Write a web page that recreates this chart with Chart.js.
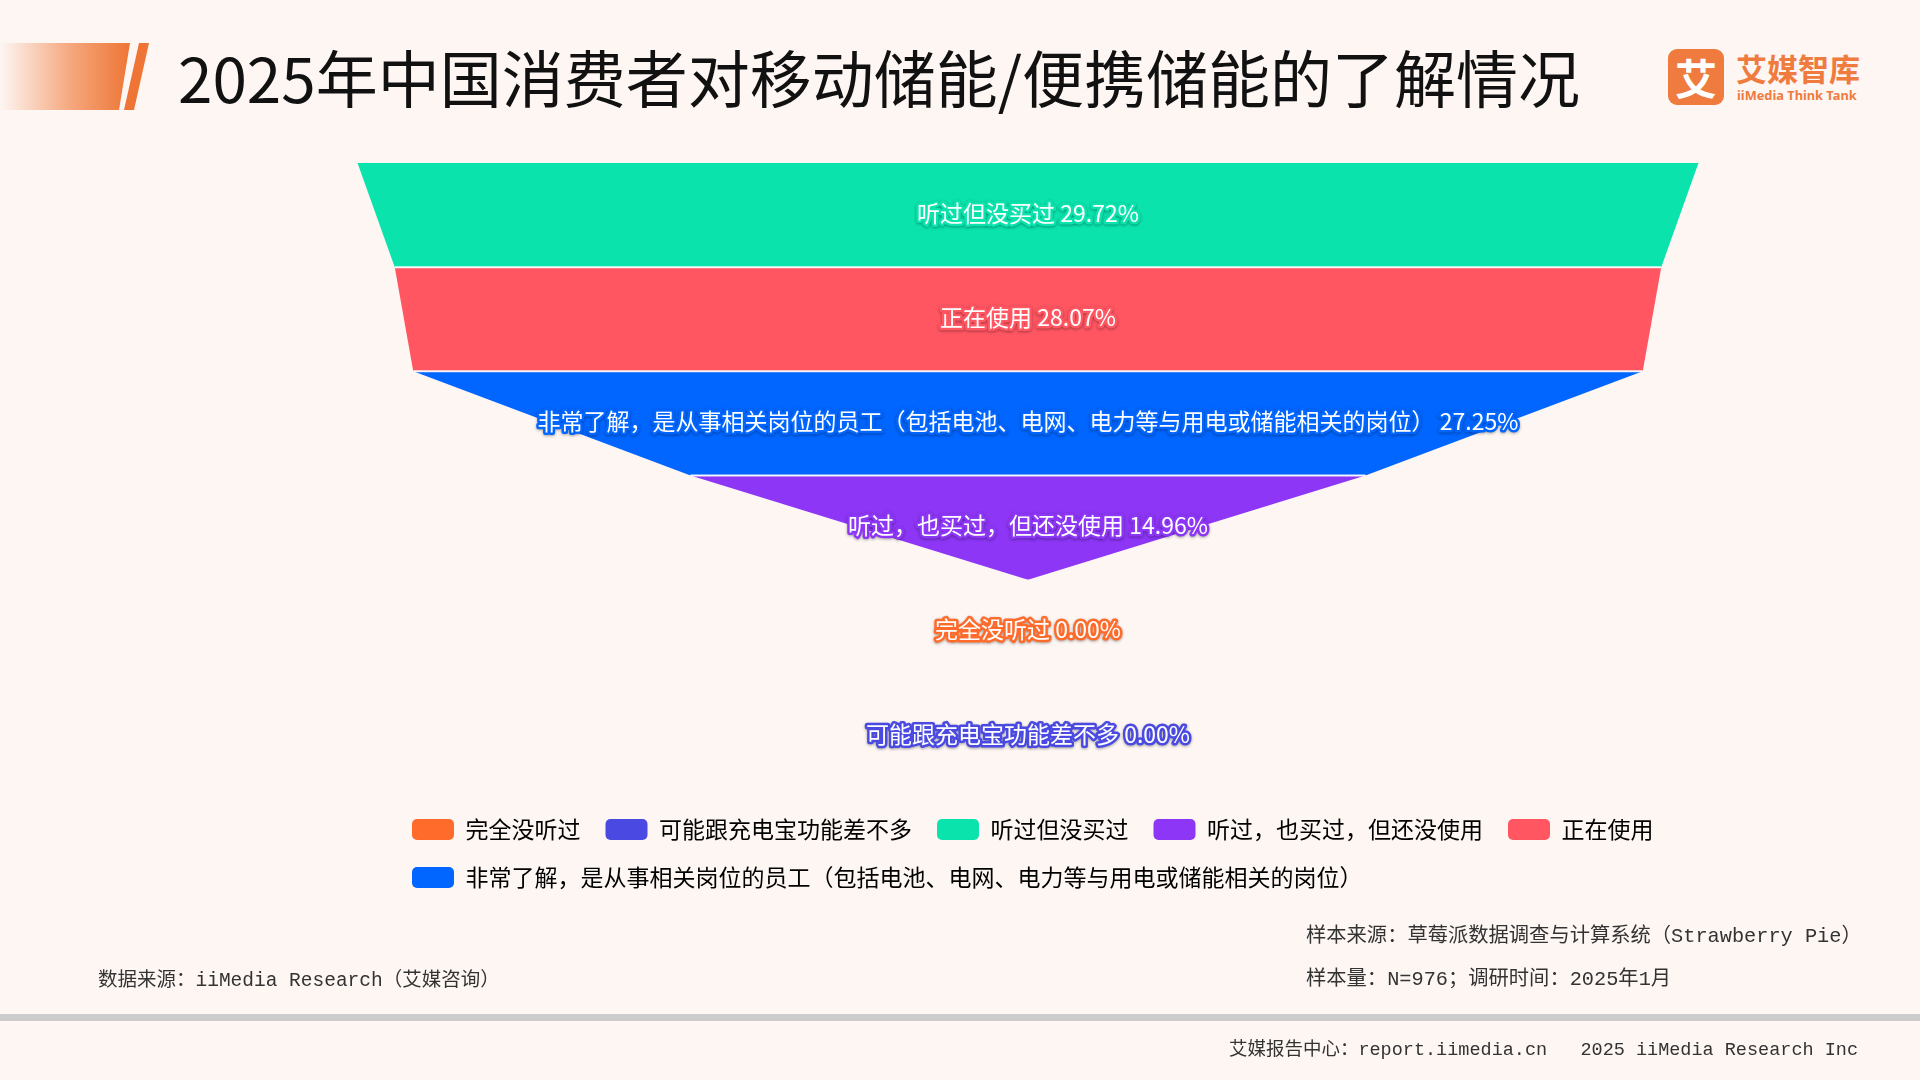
<!DOCTYPE html>
<html lang="zh-CN">
<head>
<meta charset="utf-8">
<title>2025年中国消费者对移动储能/便携储能的了解情况</title>
<script src="https://cdn.jsdelivr.net/npm/chart.js@4.4.1/dist/chart.umd.min.js"></script>
<style>
  html, body { margin: 0; padding: 0; }
  body {
    width: 1920px; height: 1080px; position: relative; overflow: hidden;
    background: #fdf6f3;
    font-family: "Noto Sans CJK SC", "Noto Sans", sans-serif;
  }
  #chart { position: absolute; left: 0; top: 0; }
  .deco { position: absolute; top: 43px; height: 67px; }
  .deco-block {
    left: 0; width: 130px;
    background: linear-gradient(to right, rgba(246,160,110,0) 0%, rgba(242,140,84,0.75) 55%, #ee7535 100%);
    clip-path: polygon(0 0, 130px 0, 119px 67px, 0 67px);
  }
  .deco-stripe {
    left: 120px; width: 32px; background: #ee7535;
    clip-path: polygon(19px 0, 29px 0, 14px 67px, 4px 67px);
  }
  #title {
    position: absolute; left: 178px; top: 38px;
    font-size: 62px; line-height: 76px; color: #111; white-space: nowrap;
  }
  #logo-mark {
    position: absolute; left: 1668px; top: 49px; width: 56px; height: 56px;
    border-radius: 9px; background: #ef7b3e; color: #fff;
    font-size: 42px; font-weight: bold; line-height: 56px; text-align: center;
  }
  #logo-cn {
    position: absolute; left: 1736px; top: 48px;
    font-size: 31px; line-height: 40px; font-weight: bold; color: #ef7b3e; white-space: nowrap;
  }
  #logo-en {
    position: absolute; left: 1737px; top: 87px;
    font-family: "Noto Sans", sans-serif;
    font-size: 12.8px; line-height: 17px; font-weight: bold; color: #ef7b3e; white-space: nowrap;
  }
  .note {
    position: absolute; white-space: nowrap; color: #333;
    font-family: "Liberation Mono", "Noto Sans CJK SC", monospace;
    font-size: 19.5px; line-height: 26px;
  }
  .note.sample { font-size: 20.3px; }
  .note.small { font-size: 18.5px; }
  #rule { position: absolute; left: 0; top: 1014px; width: 1920px; height: 7px; background: #cccccc; }
</style>
</head>
<body>
<div class="deco deco-block"></div>
<div class="deco deco-stripe"></div>
<div id="title">2025年中国消费者对移动储能/便携储能的了解情况</div>
<div id="logo-mark">艾</div>
<div id="logo-cn">艾媒智库</div>
<div id="logo-en">iiMedia Think Tank</div>

<canvas id="chart" width="1920" height="1080"></canvas>

<div class="note" style="left:98px; top:968px;">数据来源：iiMedia Research（艾媒咨询）</div>
<div class="note sample" style="left:1306px; top:924px;">样本来源：草莓派数据调查与计算系统（Strawberry Pie）</div>
<div class="note sample" style="left:1306px; top:967px;">样本量：N=976；调研时间：2025年1月</div>
<div id="rule"></div>
<div class="note small" style="right:62px; top:1038px;">艾媒报告中心：report.iimedia.cn&nbsp;&nbsp;&nbsp;2025 iiMedia Research Inc</div>

<script>
// survey answers, in legend order
var categories = [
    '完全没听过',
    '可能跟充电宝功能差不多',
    '听过但没买过',
    '听过，也买过，但还没使用',
    '正在使用',
    '非常了解，是从事相关岗位的员工（包括电池、电网、电力等与用电或储能相关的岗位）'
];
var shares = [0, 0, 29.72, 14.96, 28.07, 27.25];
var colors = ['#ff6b2b', '#4a4ae2', '#0be3ad', '#8d36f6', '#ff5662', '#0066ff'];

// funnel rows: biggest share on top, ties keep legend order
var order = categories.map(function(c, i) { return i; })
    .sort(function(a, b) { return (shares[b] - shares[a]) || (a - b); });

var legendLeft = 387;

function buildDatasets() {
    var sets = [];

    // each row is a trapezoid: left edge filled over to the right edge
    order.forEach(function(k, row) {
        var top = shares[k] / 2;
        var next = row + 1 < order.length ? shares[order[row + 1]] / 2 : 0;
        sets.push({
            data: [{x: -top, y: row}, {x: -next, y: row + 1}],
            fill: '+1',
            backgroundColor: colors[k],
            borderWidth: 0,
            pointRadius: 0,
            order: 1
        });
        sets.push({
            data: [{x: top, y: row}, {x: next, y: row + 1}],
            fill: false,
            borderWidth: 0,
            pointRadius: 0,
            order: 1
        });
    });

    // thin white seams between rows
    order.forEach(function(k, row) {
        if(row === 0 || shares[k] === 0) return;
        sets.push({
            data: [{x: -shares[k] / 2, y: row}, {x: shares[k] / 2, y: row}],
            fill: false,
            borderColor: 'rgba(255,255,255,0.9)',
            borderWidth: 2,
            pointRadius: 0,
            order: 0
        });
    });

    return sets;
}

var stageLabels = {
    id: 'stageLabels',
    afterDatasetsDraw: function(chart) {
        var ctx = chart.ctx;
        var xs = chart.scales.x, ys = chart.scales.y;
        ctx.save();
        ctx.font = '23px "Noto Sans CJK SC"';
        ctx.textAlign = 'center';
        ctx.textBaseline = 'middle';
        ctx.lineJoin = 'round';
        order.forEach(function(k, row) {
            var text = categories[k] + ' ' + shares[k].toFixed(2) + '%';
            var x = xs.getPixelForValue(0);
            var y = ys.getPixelForValue(row + 0.5) - 2;
            ctx.shadowColor = 'rgba(0,0,0,0.35)';
            ctx.shadowBlur = 3;
            ctx.shadowOffsetY = 1;
            ctx.lineWidth = 5;
            ctx.strokeStyle = colors[k];
            ctx.strokeText(text, x, y);
            ctx.shadowColor = 'transparent';
            ctx.fillStyle = '#fff';
            ctx.fillText(text, x, y);
        });
        ctx.restore();
    }
};

// legend rows start under the funnel's left side, not at the canvas edge
var legendSpot = {
    id: 'legendSpot',
    afterLayout: function(chart) {
        var lg = chart.legend;
        lg.right += legendLeft - lg.left;
        lg.left = legendLeft;
        lg.top += 5;
        lg.bottom += 5;
    }
};

new Chart(document.getElementById('chart'), {
    type: 'line',
    data: { datasets: buildDatasets() },
    plugins: [stageLabels, legendSpot],
    options: {
        responsive: false,
        animation: false,
        events: [],
        indexAxis: 'y',
        layout: { padding: { left: 136, right: 0, top: 163, bottom: 186 } },
        scales: {
            x: { type: 'linear', min: -19.77, max: 19.77, display: false },
            y: { type: 'linear', min: 0, max: categories.length, reverse: true, display: false }
        },
        plugins: {
            tooltip: { enabled: false },
            legend: {
                position: 'bottom',
                align: 'start',
                labels: {
                    boxWidth: 42,
                    boxHeight: 21,
                    padding: 25,
                    color: '#333',
                    font: { family: 'Noto Sans CJK SC', size: 23 },
                    generateLabels: function() {
                        return categories.map(function(name, i) {
                            return {
                                text: name,
                                fillStyle: colors[i],
                                strokeStyle: colors[i],
                                lineWidth: 0,
                                borderRadius: 5,
                                hidden: false,
                                index: i
                            };
                        });
                    }
                }
            }
        }
    }
});
</script>
</body>
</html>
